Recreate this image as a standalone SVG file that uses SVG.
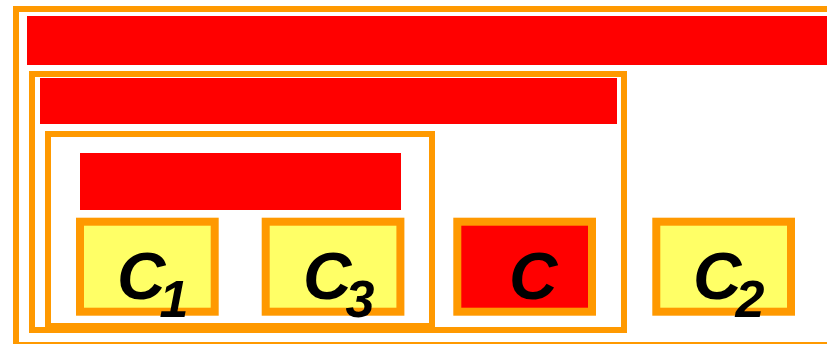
<svg xmlns="http://www.w3.org/2000/svg" width="827" height="344" viewBox="0 0 827 344">
<style>
.frame{fill:none;stroke:#FF9900;stroke-width:6}
.bar{fill:#FF0000}
.box{fill:#FFFF66;stroke:#FF9900;stroke-width:8}
.box.red{fill:#FF0000}
.lbl{font-family:"Liberation Sans",Arial,sans-serif;font-weight:bold;font-style:italic;font-size:67px;fill:#000}
.sub{font-size:52px}
</style>
<rect width="827" height="344" fill="#fff"/>
<g id="frame-outer">
<rect class="frame" x="16" y="9" width="830" height="336"/>
<rect class="bar" x="27" y="16" width="810" height="49"/>
</g>
<g id="frame-middle">
<rect class="frame" x="32" y="74" width="592" height="256"/>
<rect class="bar" x="40" y="78" width="577" height="46"/>
</g>
<g id="frame-inner">
<rect class="frame" x="48" y="134" width="384" height="192"/>
<rect class="bar" x="80" y="153" width="321" height="57"/>
</g>
<g id="connectors"></g>
<g id="node-c1">
<rect class="box" x="80" y="221.7" width="134.7" height="90"/>
<text class="lbl" x="117" y="299">C<tspan class="sub" dx="-6" y="317">1</tspan></text>
</g>
<g id="node-c3">
<rect class="box" x="265.7" y="221.7" width="134.7" height="90"/>
<text class="lbl" x="303" y="299">C<tspan class="sub" dx="-6" y="317">3</tspan></text>
</g>
<g id="node-c">
<rect class="box red" x="457.3" y="221.7" width="134.7" height="90"/>
<text class="lbl" x="509" y="299">C</text>
</g>
<g id="node-c2">
<rect class="box" x="656.3" y="221.7" width="134.7" height="90"/>
<text class="lbl" x="693" y="299">C<tspan class="sub" dx="-6" y="317">2</tspan></text>
</g>
</svg>
